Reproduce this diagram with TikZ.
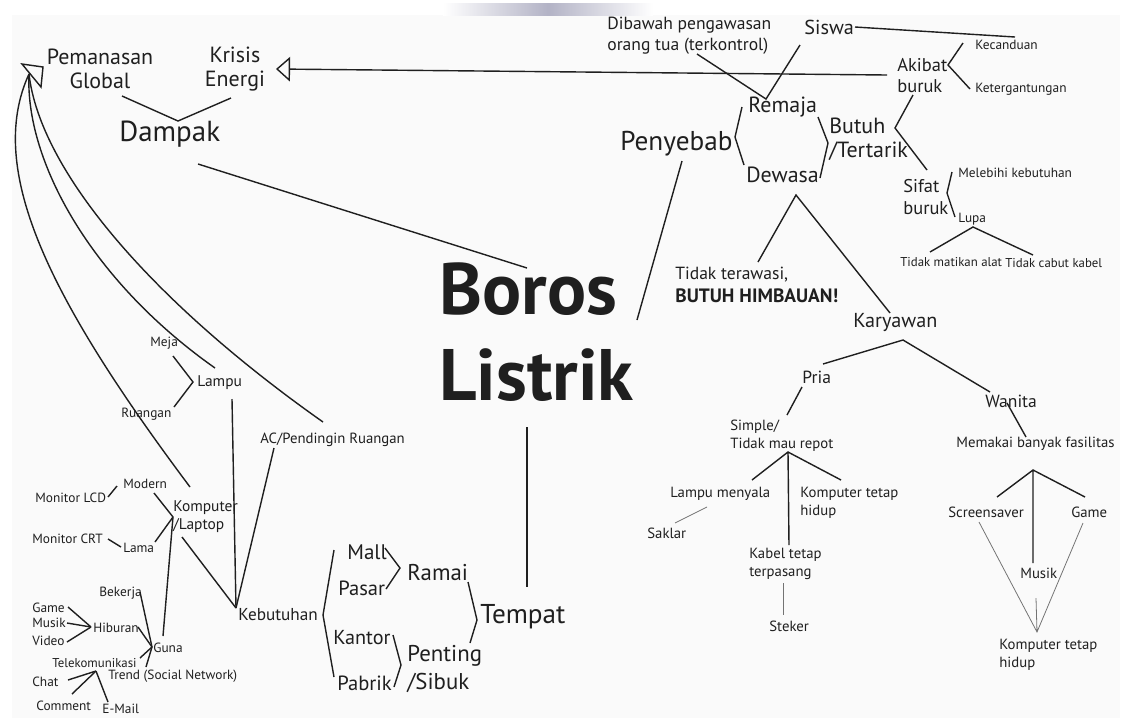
\documentclass[tikz,border=0pt]{standalone}
\usepackage{fontspec}
\setmainfont{PT Sans}
\usetikzlibrary{arrows.meta}

\begin{document}
\begin{tikzpicture}[x=0.02cm,y=-0.02cm]
\tikzset{
  lbl/.style={inner sep=0,anchor=west,align=left,text=black!88},
  sz7/.style={lbl,font=\fontsize{7.3}{9}\selectfont},
  sz8/.style={lbl,font=\fontsize{7.6}{10}\selectfont},
  sz9/.style={lbl,font=\fontsize{8.4}{10.2}\selectfont},
  sz10/.style={lbl,font=\fontsize{10}{12}\selectfont},
  sz11/.style={lbl,font=\fontsize{10.5}{12}\selectfont},
  sz12/.style={lbl,font=\fontsize{12.5}{13.6}\selectfont},
  sz13/.style={lbl,font=\fontsize{13}{16}\selectfont},
  sz15/.style={lbl,font=\fontsize{15.5}{18}\selectfont},
  title/.style={lbl,font=\fontsize{41.5}{49}\bfseries\selectfont},
  conn/.style={line width=.8pt,black!88},
  faint/.style={line width=.45pt,black!55},
}
\useasboundingbox (0,0) rectangle (1126,718);
\fill[white] (0,0) rectangle (1126,718);
\fill[black!2] (12,15) rectangle (1120,718);
\shade[left color=white,right color=white,middle color=blue!25!black!30] (443,3) rectangle (653,15);

% centre
\node[title] (boros) at (439,332) {Boros\\Listrik};

% dampak
\node[sz12,align=center,anchor=center] (pemanasan) at (100,69) {Pemanasan\\Global};
\node[sz12,align=center,anchor=center] (krisis) at (235,69) {Krisis\\Energi};
\node[sz15,font=\fontsize{16.5}{18}\selectfont] (dampak) at (119,134) {Dampak};

% penyebab
\node[sz15] (penyebab) at (620,144) {Penyebab};
\node[sz12] (remaja) at (748,107) {Remaja};
\node[sz12] (dewasa) at (746,175) {Dewasa};
\node[sz12] (butuh) at (829,139) {Butuh\\/Tertarik};
\node[sz10] (dibawah) at (607,36) {Dibawah pengawasan\\orang tua (terkontrol)};
\node[sz11,font=\fontsize{11.5}{12}\selectfont] (siswa) at (804,27) {Siswa};
\node[sz11] (akibat) at (897,76) {Akibat\\buruk};
\node[sz8] (kecanduan) at (975,45) {Kecanduan};
\node[sz8] (ketergantungan) at (975,89) {Ketergantungan};
\node[sz11] (sifat) at (903,197) {Sifat\\buruk};
\node[sz8] (melebihi) at (958,173) {Melebihi kebutuhan};
\node[sz8] (lupa) at (958,219) {Lupa};
\node[sz7] (matikan) at (900,262) {Tidak matikan alat};
\node[sz7] (cabut) at (1005,263) {Tidak cabut kabel};
\node[sz10] (terawasi) at (675,285) {Tidak terawasi,\\[1pt]{\fontsize{11}{12}\selectfont\bfseries BUTUH HIMBAUAN!}};

% karyawan
\node[sz11,font=\fontsize{11.5}{12}\selectfont] (karyawan) at (853,322) {Karyawan};
\node[sz10] (pria) at (802,377) {Pria};
\node[sz10] (wanita) at (985,401) {Wanita};
\node[sz9] (simple) at (730,436) {Simple/\\Tidak mau repot};
\node[sz9] (memakai) at (956,444) {Memakai banyak fasilitas};
\node[sz9] (menyala) at (670,494) {Lampu menyala};
\node[sz9] (komphidup) at (800,503) {Komputer tetap\\hidup};
\node[sz9] (saklar) at (647,533) {Saklar};
\node[sz9] (kabel) at (749,564) {Kabel tetap\\terpasang};
\node[sz9] (steker) at (769,626) {Steker};
\node[sz9] (screensaver) at (948,512) {Screensaver};
\node[sz9] (gamew) at (1071,512) {Game};
\node[sz9] (musikw) at (1020,573) {Musik};
\node[sz9] (komphidupw) at (999,655) {Komputer tetap\\hidup};

% tempat
\node[sz15] (tempat) at (480,617) {Tempat};
\node[sz13] (ramai) at (407,572) {Ramai};
\node[sz13] (penting) at (407,669) {Penting\\/Sibuk};
\node[sz11,font=\fontsize{12}{13}\selectfont] (mall) at (347,552) {Mall};
\node[sz11,font=\fontsize{11.7}{13}\selectfont] (pasar) at (338,588) {Pasar};
\node[sz11,font=\fontsize{11.5}{13}\selectfont] (kantor) at (333,638) {Kantor};
\node[sz11,font=\fontsize{11.7}{13}\selectfont] (pabrik) at (337,683) {Pabrik};

% kebutuhan
\node[sz11,font=\fontsize{9.8}{12}\selectfont] (kebutuhan) at (238,615) {Kebutuhan};
\node[sz9] (ac) at (260,440) {AC/Pendingin Ruangan};
\node[sz9,font=\fontsize{8.8}{10}\selectfont] (lampu) at (197,383) {Lampu};
\node[sz8] (meja) at (150,343) {Meja};
\node[sz8] (ruangan) at (121,414) {Ruangan};
\node[sz9,font=\fontsize{8.8}{10.2}\selectfont] (komputer) at (173,517) {Komputer\\/Laptop};
\node[sz8] (modern) at (123,484) {Modern};
\node[sz8] (lcd) at (35,498) {Monitor LCD};
\node[sz8] (lama) at (123,548) {Lama};
\node[sz8] (crt) at (32,539) {Monitor CRT};
\node[sz8] (guna) at (153,648) {Guna};
\node[sz8] (bekerja) at (99,593) {Bekerja};
\node[sz8] (hiburan) at (93,628) {Hiburan};
\node[sz8] (game) at (32,608) {Game};
\node[sz8] (musik) at (32,623) {Musik};
\node[sz8] (video) at (32,641) {Video};
\node[sz7] (telekom) at (52,663) {Telekomunikasi};
\node[sz8] (trend) at (108,676) {Trend (Social Network)};
\node[sz8] (chat) at (32,682) {Chat};
\node[sz8] (comment) at (36,706) {Comment};
\node[sz8] (email) at (102,709) {E-Mail};

% ends of the connectors
\coordinate (dpa) at (122,96); \coordinate (dpb) at (178,121); \coordinate (dpc) at (231,98);
\coordinate (dpd) at (198,164); \coordinate (bra) at (527,268);
\coordinate (kra) at (887,75); \coordinate (krb) at (276,69);
\coordinate (gw) at (29,74);
\coordinate (rma) at (697,54); \coordinate (rmb) at (766,99); \coordinate (rmc) at (800,45);
\coordinate (pya) at (742,107); \coordinate (pyb) at (735,137); \coordinate (pyc) at (744,165);
\coordinate (rda) at (818,117); \coordinate (rdb) at (828,143); \coordinate (rdc) at (820,178);
\coordinate (bta) at (913,95); \coordinate (btb) at (895,128); \coordinate (btc) at (927,170);
\coordinate (aka) at (963,43); \coordinate (akb) at (948,65); \coordinate (akc) at (970,89);
\coordinate (sfa) at (952,172); \coordinate (sfb) at (947,193); \coordinate (sfc) at (955,217);
\coordinate (swa) at (855,27); \coordinate (swb) at (1015,37);
\coordinate (lpa) at (930,252); \coordinate (lpb) at (973,227); \coordinate (lpc) at (1033,255);
\coordinate (pyd) at (682,161); \coordinate (brb) at (637,320);
\coordinate (dwa) at (758,262); \coordinate (dwb) at (796,195); \coordinate (dwc) at (890,313);
\coordinate (kya) at (823,364); \coordinate (kyb) at (903,340); \coordinate (kyc) at (990,392);
\coordinate (pra) at (802,387); \coordinate (prb) at (787,415);
\coordinate (wna) at (1007,403); \coordinate (wnb) at (1026,437);
\coordinate (spa) at (788,452); \coordinate (spb) at (752,480); \coordinate (spc) at (841,480); \coordinate (spd) at (789,545);
\coordinate (ska) at (675,523); \coordinate (skb) at (707,507);
\coordinate (kba) at (783,583); \coordinate (kbb) at (783,615);
\coordinate (mka) at (1033,470); \coordinate (mkb) at (997,497); \coordinate (mkc) at (1085,497); \coordinate (mkd) at (1033,563);
\coordinate (fsa) at (979,522); \coordinate (fsb) at (1037,632); \coordinate (fsc) at (1083,523); \coordinate (fsd) at (1036,598);
\coordinate (brc) at (527,427); \coordinate (tpa) at (527,587);
\coordinate (tpb) at (468,582); \coordinate (tpc) at (477,620); \coordinate (tpd) at (470,643);
\coordinate (rma2) at (385,548); \coordinate (rmb2) at (400,568); \coordinate (rmc2) at (386,589);
\coordinate (pta) at (393,635); \coordinate (ptb) at (401,665); \coordinate (ptc) at (394,687);
\coordinate (kta) at (334,550); \coordinate (ktb) at (323,615); \coordinate (ktc) at (334,677);
\coordinate (ktd) at (236,608); \coordinate (lmb) at (232,399); \coordinate (acb) at (274,448); \coordinate (kpd) at (182,537);
\coordinate (lma) at (173,356); \coordinate (lmc) at (193,382); \coordinate (lmd) at (174,407);
\coordinate (kpa) at (154,493); \coordinate (kpb) at (173,517); \coordinate (kpc) at (155,542); \coordinate (gnd) at (163,636);
\coordinate (lca) at (108,497); \coordinate (lcb) at (117,486);
\coordinate (cra) at (108,539); \coordinate (crb) at (121,547);
\coordinate (gna) at (152,647);
\coordinate (hba) at (91,627);
\coordinate (tka) at (96,671);
\coordinate (lps) at (215,368); \coordinate (acs) at (323,422); \coordinate (kps) at (190,487);

% connectors
\draw[conn] (dpa) -- (dpb) -- (dpc);
\draw[conn] (dpd) -- (bra);
\draw[conn,-{Triangle[open,length=8pt,width=14pt]}] (kra) -- (krb);
\draw[conn] (kps) .. controls (50,300) and (-15,170) .. (gw);
\draw[conn] (lps) .. controls (90,280) and (25,160) .. (gw);
\draw[conn] (acs) .. controls (150,300) and (40,170) .. (gw);
\draw[conn] (22,64) -- (43,67) -- (41,87) -- cycle;
\draw[conn] (rma) -- (rmb) -- (rmc);
\draw[conn] (pya) -- (pyb) -- (pyc);
\draw[conn] (rda) -- (rdb) -- (rdc);
\draw[conn] (bta) -- (btb) -- (btc);
\draw[conn] (aka) -- (akb) -- (akc);
\draw[conn] (sfa) -- (sfb) -- (sfc);
\draw[conn] (swa) -- (swb);
\draw[conn] (lpa) -- (lpb) -- (lpc);
\draw[conn] (pyd) -- (brb);
\draw[conn] (dwa) -- (dwb) -- (dwc);
\draw[conn] (kya) -- (kyb) -- (kyc);
\draw[conn] (pra) -- (prb);
\draw[conn] (wna) -- (wnb);
\draw[conn] (spb) -- (spa) -- (spc) (spa) -- (spd);
\draw[faint] (ska) -- (skb);
\draw[faint] (kba) -- (kbb);
\draw[conn] (mkb) -- (mka) -- (mkc) (mka) -- (mkd);
\draw[faint] (fsa) -- (fsb) -- (fsc) (fsd) -- (fsb);
\draw[conn] (brc) -- (tpa);
\draw[conn] (tpb) -- (tpc) -- (tpd);
\draw[conn] (rma2) -- (rmb2) -- (rmc2);
\draw[conn] (pta) -- (ptb) -- (ptc);
\draw[conn] (kta) -- (ktb) -- (ktc);
\foreach \e in {lmb,acb,kpd}
  \draw[conn] (ktd) -- (\e);
\draw[conn] (lma) -- (lmc) -- (lmd);
\draw[conn] (kpa) -- (kpb) -- (kpc) (kpb) -- (gnd);
\draw[conn] (lca) -- (lcb);
\draw[conn] (cra) -- (crb);
\foreach \p in {(140,592),(138,627),(140,658),(146,667)}
  \draw[conn] \p -- (gna);
\foreach \p in {(68,607),(67,623),(67,642)}
  \draw[conn] \p -- (hba);
\foreach \p in {(68,680),(72,694),(108,702)}
  \draw[conn] \p -- (tka);
\end{tikzpicture}
\end{document}
